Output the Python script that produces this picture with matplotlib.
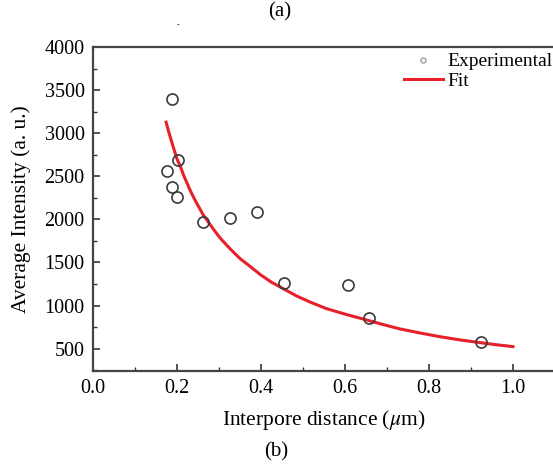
import matplotlib.pyplot as plt
import numpy as np
from matplotlib.ticker import MultipleLocator

plt.rcParams['font.family'] = ['Liberation Serif', 'DejaVu Serif']
plt.rcParams['mathtext.fontset'] = 'stix'

# experimental points
exp_x = [0.176, 0.188, 0.202, 0.188, 0.200, 0.262, 0.326, 0.390, 0.455, 0.607, 0.657, 0.924]
exp_y = [2558, 3395, 2686, 2372, 2256, 1965, 2012, 2081, 1256, 1233, 860, 581]

# fit curve, sampled along the red line
fit_x = [0.174, 0.180, 0.187, 0.193, 0.200, 0.208, 0.215, 0.223, 0.231, 0.238,
         0.246, 0.254, 0.262, 0.273, 0.285, 0.296, 0.307, 0.328, 0.350, 0.375,
         0.398, 0.425, 0.455, 0.485, 0.517, 0.555, 0.600, 0.657, 0.690, 0.731,
         0.780, 0.826, 0.875, 0.924, 0.960, 1.000]
fit_y = [3128, 3020, 2905, 2810, 2700, 2615, 2520, 2430, 2340, 2270,
         2195, 2125, 2055, 1980, 1898, 1825, 1760, 1650, 1545, 1450,
         1360, 1270, 1190, 1110, 1040, 965, 900, 825, 780, 728,
         680, 638, 600, 568, 545, 523]

fig = plt.figure(figsize=(5.53, 4.68), dpi=100)
ax = fig.add_axes([93 / 553, 97 / 468, 462 / 553, 324 / 468])

ax.plot(fit_x, fit_y, color='#e8202a', lw=2.2, label='Fit', zorder=2)
ax.plot(exp_x, exp_y, ls='none', marker='o', ms=8, mfc='none',
        mec='#3a3a3a', mew=1.2, label='Experimental', zorder=3)

ax.set_xlim(0, 1.1)
ax.set_ylim(240, 4000)
ax.xaxis.set_major_locator(MultipleLocator(0.2))
ax.xaxis.set_minor_locator(MultipleLocator(0.1))
ax.yaxis.set_minor_locator(MultipleLocator(250))
ax.set_yticks([500, 1000, 1500, 2000, 2500, 3000, 3500, 4000])
ax.xaxis.set_major_formatter(plt.FuncFormatter(lambda v, p: '%.1f' % v))
ax.tick_params(which='both', direction='in', labelsize=14.5, colors='#333333',
               labelcolor='black')
ax.tick_params(which='major', length=5, width=1.2, pad=6)
ax.tick_params(which='minor', length=3, width=1)
for s in ax.spines.values():
    s.set_linewidth(1.6)
    s.set_color('#444444')

ax.set_xlabel(r'Interpore distance ($\mu$m)', fontsize=15.5, labelpad=7)
ax.set_ylabel('Average Intensity (a. u.)', fontsize=15.5)
ax.yaxis.set_label_coords(-0.134, 0.5)

h, l = ax.get_legend_handles_labels()
leg = ax.legend(h[::-1], l[::-1], loc='upper left', bbox_to_anchor=(0.673, 0.982),
                frameon=False, fontsize=14, markerscale=0.45, handlelength=2.0,
                handletextpad=0.25, labelspacing=0.1, borderpad=0, borderaxespad=0)
leg.legend_handles[0].set_markeredgecolor('#aaaaaa')

fig.text(0.506, 1 - 12 / 468, '(a)', ha='center', va='center', fontsize=15)
fig.text(0.500, 1 - 452 / 468, '(b)', ha='center', va='center', fontsize=15)
fig.text(178 / 553, 1 - 25 / 468, '-', ha='center', va='center', fontsize=6)

fig.savefig('out.png', dpi=100)
